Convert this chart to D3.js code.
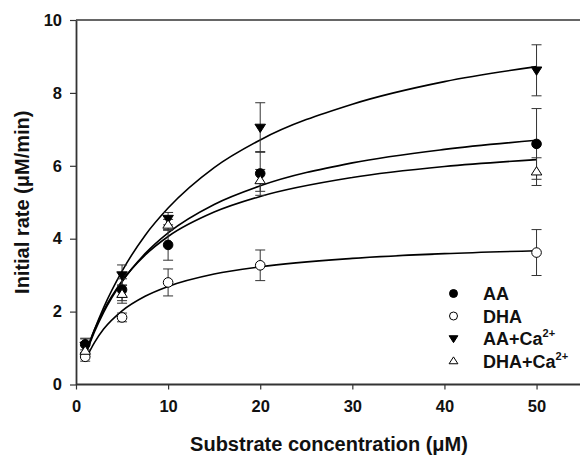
<!DOCTYPE html>
<html><head><meta charset="utf-8">
<script src="https://cdn.jsdelivr.net/npm/d3@7"></script>
<style>
body{margin:0;background:#fff;}
svg{display:block;font-family:"Liberation Sans",Arial,sans-serif;font-weight:bold;}
</style></head>
<body>
<script>
// ---- data ----
const concentrations = [1, 5, 10, 20, 50];
const aaMean = [1.10, 2.60, 3.83, 5.79, 6.60];
const aaErr = [0.15, 0.30, 0.42, 0.60, 0.97];
const dhaMean = [0.76, 1.84, 2.80, 3.27, 3.62];
const dhaErr = [0.12, 0.12, 0.37, 0.42, 0.63];
const aaCaMean = [1.07, 3.00, 4.55, 7.05, 8.62];
const aaCaErr = [0.20, 0.28, 0.17, 0.68, 0.70];
const dhaCaMean = [0.92, 2.48, 4.38, 5.60, 5.84];
const dhaCaErr = [0.15, 0.25, 0.15, 0.30, 0.38];

// fitted curves
const curveX = [1, 2, 3, 5, 7.5, 10, 15, 20, 30, 40, 50];
const aaCurve = [0.79, 1.44, 1.98, 2.82, 3.59, 4.16, 4.94, 5.45, 6.08, 6.45, 6.70];
const dhaCurve = [0.67, 1.15, 1.52, 2.02, 2.42, 2.69, 3.03, 3.23, 3.46, 3.59, 3.67];
const aaCaCurve = [0.81, 1.50, 2.11, 3.11, 4.09, 4.84, 5.95, 6.71, 7.69, 8.31, 8.72];
const dhaCaCurve = [0.84, 1.50, 2.03, 2.84, 3.55, 4.06, 4.73, 5.16, 5.68, 5.98, 6.17];

const xTicks = [0, 10, 20, 30, 40, 50];
const yTicks = [0, 2, 4, 6, 8, 10];
const legendLabels = ["AA", "DHA", "AA+Ca", "DHA+Ca"];
const legendSup = ["", "", "2+", "2+"];

// ---- chart ----
const W = 580, H = 455;
const svg = d3.select("body").append("svg").attr("width", W).attr("height", H);
const x = d3.scaleLinear().domain([0, 55]).range([76, 582.6]);
const y = d3.scaleLinear().domain([0, 10]).range([384.5, 20]);
const axisColor = "#333";

// frame top
svg.append("line").attr("x1", x(0)).attr("x2", W).attr("y1", y(10)).attr("y2", y(10))
  .attr("stroke", axisColor).attr("stroke-width", 1.6);

const xAxis = svg.append("g").attr("transform", `translate(0,${y(0)})`)
  .call(d3.axisBottom(x).tickValues(xTicks).tickSize(5).tickPadding(11).tickSizeOuter(0));
const yAxis = svg.append("g").attr("transform", `translate(${x(0)},0)`)
  .call(d3.axisLeft(y).tickValues(yTicks).tickSize(6).tickPadding(8).tickSizeOuter(0));
[xAxis, yAxis].forEach(g => {
  g.select(".domain").attr("stroke", axisColor).attr("stroke-width", 1.8);
  g.selectAll(".tick line").attr("stroke", axisColor).attr("stroke-width", 1.2);
  g.selectAll(".tick text").attr("fill", "#111").style("font-size", "16.5px")
    .style("font-family", "'Liberation Sans',Arial,sans-serif").style("font-weight", "bold");
});
xAxis.select(".domain").attr("d", `M${x(0)},0H${W}`);

// axis titles
svg.append("text").attr("x", 329).attr("y", 451).attr("text-anchor", "middle")
  .style("font-size", "20px").attr("fill", "#111").text("Substrate concentration (μM)");
svg.append("text").attr("transform", `translate(29,${(y(0) + y(10)) / 2}) rotate(-90)`)
  .attr("text-anchor", "middle").style("font-size", "20px").attr("fill", "#111")
  .text("Initial rate (μM/min)");

// curves
const line = d3.line().x(d => x(d[0])).y(d => y(d[1])).curve(d3.curveMonotoneX);
[aaCurve, dhaCurve, aaCaCurve, dhaCaCurve].forEach(c => {
  svg.append("path").datum(curveX.map((cx, i) => [cx, c[i]]))
    .attr("d", line).attr("fill", "none").attr("stroke", "#000").attr("stroke-width", 1.6);
});

// series
const series = [
  {mean: aaMean, err: aaErr, shape: "circle", fill: "#000"},
  {mean: dhaMean, err: dhaErr, shape: "circle", fill: "#fff"},
  {mean: aaCaMean, err: aaCaErr, shape: "down", fill: "#000"},
  {mean: dhaCaMean, err: dhaCaErr, shape: "up", fill: "#fff"}
];

function marker(g, shape, cx, cy, fill, s) {
  if (shape === "circle") {
    g.append("circle").attr("cx", cx).attr("cy", cy).attr("r", s)
      .attr("fill", fill).attr("stroke", "#000").attr("stroke-width", 1);
  } else {
    const h = s * 1.15, w = s * 1.1;
    const pts = shape === "down"
      ? [[cx - w, cy - h * 0.6], [cx + w, cy - h * 0.6], [cx, cy + h * 0.9]]
      : [[cx - w, cy + h * 0.6], [cx + w, cy + h * 0.6], [cx, cy - h * 0.9]];
    g.append("polygon").attr("points", pts.map(p => p.join(",")).join(" "))
      .attr("fill", fill).attr("stroke", "#000").attr("stroke-width", 1);
  }
}

const eg = svg.append("g");
series.forEach(s => {
  concentrations.forEach((c, i) => {
    const cx = x(c), top = y(s.mean[i] + s.err[i]), bot = y(s.mean[i] - s.err[i]);
    eg.append("line").attr("x1", cx).attr("x2", cx).attr("y1", top).attr("y2", bot)
      .attr("stroke", "#333").attr("stroke-width", 1);
    [top, bot].forEach(yy => eg.append("line").attr("x1", cx - 5).attr("x2", cx + 5)
      .attr("y1", yy).attr("y2", yy).attr("stroke", "#333").attr("stroke-width", 1));
  });
});
const mg = svg.append("g");
series.forEach(s => {
  concentrations.forEach((c, i) => marker(mg, s.shape, x(c), y(s.mean[i]), s.fill, 4.8));
});

// legend
const lg = svg.append("g");
legendLabels.forEach((lab, i) => {
  const ly = 293.5 + i * 22.5;
  marker(lg, series[i].shape, 453.5, ly, series[i].fill, 4);
  const t = lg.append("text").attr("x", 483).attr("y", ly + 6.5).style("font-size", "18px").attr("fill", "#111");
  t.append("tspan").text(lab);
  if (legendSup[i]) t.append("tspan").attr("dy", -8).style("font-size", "11px").text(legendSup[i]);
});
</script>
</body></html>
